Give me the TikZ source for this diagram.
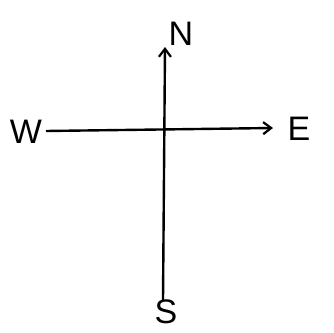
\documentclass[tikz,border=0pt]{standalone}
\usepackage{fontspec}
\setmainfont{Liberation Sans}
\usetikzlibrary{arrows.meta}
\tikzset{
  dirlabel/.style={inner sep=1pt, font=\fontsize{34}{34}\selectfont},
  axis/.style={line width=2.4pt, -{Straight Barb[length=8pt,width=12pt,line width=2.2pt]}}
}

\begin{document}
\begin{tikzpicture}[x=1pt, y=-1pt]
    \useasboundingbox (0,0) rectangle (334,332);
    % Direction labels
    \node[dirlabel] (N) at (181,34) {N};
    \node[dirlabel] (S) at (166,312) {S};
    \node[dirlabel] (W) at (26,132) {W};
    \node[dirlabel] (E) at (299,129) {E};

    % Axes
    \coordinate (Ntip) at (165,47);
    \coordinate (Stail) at (163,300);
    \coordinate (Wtail) at (46,131);
    \coordinate (Etip) at (273,128);
    \draw[axis] (Stail) -- (Ntip);
    \draw[axis] (Wtail) -- (Etip);
\end{tikzpicture}
\end{document}
